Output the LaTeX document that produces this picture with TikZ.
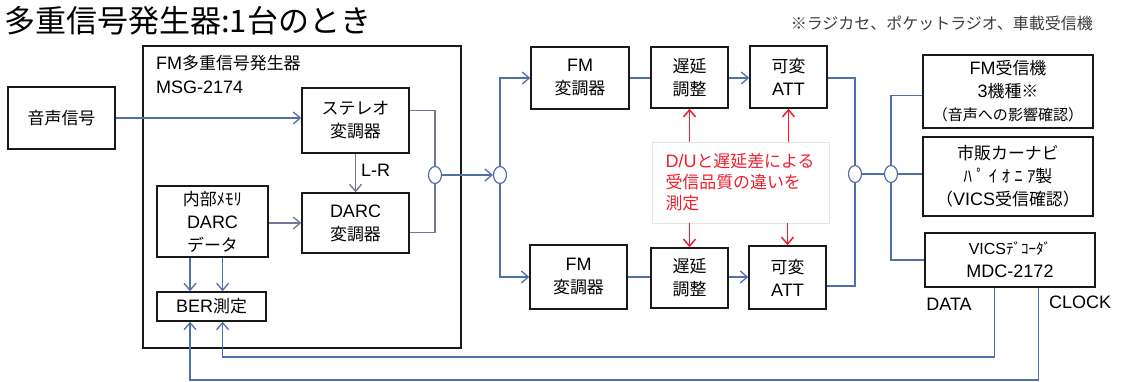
\documentclass[tikz,border=0pt]{standalone}
\usepackage{fontspec}
\setmainfont{Liberation Sans}
\newfontfamily\jp[Scale=0.94]{Noto Sans CJK JP}
\newfontfamily\jph[Scale=0.94,LetterSpace=25]{Noto Sans CJK JP}
\newcommand\J[1]{{\jp #1}}
\usetikzlibrary{arrows.meta,calc,shapes.geometric}
\definecolor{lblue}{RGB}{82,112,168}
\definecolor{igray}{RGB}{112,118,148}
\definecolor{dred}{RGB}{240,30,45}
\definecolor{bord}{RGB}{25,25,25}
\definecolor{notegray}{RGB}{60,60,60}
\definecolor{faint}{RGB}{228,228,228}
\tikzset{
 box/.style={draw=bord, line width=1.5pt, fill=white, align=center, font=\fontsize{18}{23}\selectfont, inner sep=0pt},
 conn/.style={draw=lblue, line width=1.3pt},
 iconn/.style={draw=igray, line width=1.3pt},
 arr/.style={conn, -{Straight Barb[length=7pt,width=12pt]}},
 iarr/.style={iconn, -{Straight Barb[length=7pt,width=12pt]}},
 junc/.style={ellipse, draw=lblue, line width=1.2pt, fill=white, minimum width=13pt, minimum height=17pt, inner sep=0pt},
 redarr/.style={draw=dred, line width=1.5pt, -{Straight Barb[length=7pt,width=12pt]}},
 lbl/.style={font=\fontsize{18}{22}\selectfont, inner sep=0pt},
}
\newcommand\mybox[6]{\node[box, minimum width={#4-#2}, minimum height={#5-#3}] (#1) at ({(#2+#4)/2},{(#3+#5)/2}) {#6};}
\begin{document}
\begin{tikzpicture}[x=1pt,y=-1pt]
\useasboundingbox (0,0) rectangle (1130,382);
% title and footnote
\node[anchor=west, font=\fontsize{33}{36}\selectfont\jp, inner sep=0pt] (title) at (4,21) {多重信号発生器:1台のとき};
\node[anchor=east, font=\fontsize{17}{20}\selectfont\jp, text=notegray, inner sep=0pt] (fn) at (1093,23) {※ラジカセ、ポケットラジオ、車載受信機};
% generator container
\mybox{msg}{143}{46}{461}{348}{}
\node[anchor=north west, align=left, font=\fontsize{18}{24}\selectfont, inner sep=0pt] (msgl) at (156,55) {FM\J{多重信号発生器}\\MSG-2174};
% boxes
\mybox{voice}{8}{87}{115}{149}{\J{音声信号}}
\mybox{stereo}{302}{88}{409}{153}{\J{ステレオ}\\\J{変調器}}
\mybox{darc}{302}{193}{409}{253}{DARC\\\J{変調器}}
\mybox{mem}{157}{186}{268}{257}{\J{内部ﾒﾓﾘ}\\DARC\\\J{データ}}
\mybox{ber}{157}{292}{266}{321}{BER\J{測定}}
\mybox{fma}{531}{47}{629}{109}{FM\\\J{変調器}}
\mybox{dela}{651}{47}{728}{108}{\J{遅延}\\\J{調整}}
\mybox{atta}{750}{46}{827}{108}{\J{可変}\\ATT}
\mybox{fmb}{530}{245}{627}{309}{FM\\\J{変調器}}
\mybox{delb}{651}{248}{728}{308}{\J{遅延}\\\J{調整}}
\mybox{attb}{749}{246}{826}{309}{\J{可変}\\ATT}
\mybox{rx}{923}{55}{1093}{128}{FM\J{受信機}\\3\J{機種※}\\{\fontsize{16}{20}\selectfont\J{（音声への影響確認）}}}
\mybox{nav}{923}{137}{1093}{216}{\J{市販カーナビ}\\{\jph ﾊﾟｲｵﾆｱ}\J{製}\\\J{（}VICS\J{受信確認）}}
\mybox{vics}{925}{233}{1095}{287}{{\fontsize{16}{20}\selectfont VICS\J{ﾃﾞｺｰﾀﾞ}}\\MDC-2172}
% red note
\node[draw=faint, line width=0.8pt, fill=white, minimum width=177pt, minimum height=81pt, text width=150pt, align=left, inner sep=0pt, text=dred, font=\fontsize{18}{21}\selectfont] (note) at (740.5,182.5) {D/U\J{と遅延差による}\\\J{受信品質の違いを}\\\J{測定}};
% junctions
\node[junc] (ja) at (435,175) {};
\node[junc] (jb) at (500,175) {};
\node[junc] (jc) at (855,174) {};
\node[junc] (jd) at (891,174) {};
% labels
\node[lbl, anchor=west] (lr) at (361,170) {L-R};
\node[lbl] (data) at (949,304) {DATA};
\node[lbl] (clock) at (1080,302) {CLOCK};
% connectors inside generator
\draw[arr] (voice.east) -- (voice.east -| stereo.west);
\draw[iconn] ($(stereo.north east)!0.35!(stereo.south east)$) -| (ja.north);
\draw[iconn] ($(darc.north east)!0.65!(darc.south east)$) -| (ja.south);
\draw[iarr] (stereo.south) -- (darc.north);
\draw[iarr] (mem.east |- darc.west) -- (darc.west);
\draw[arr] ($(mem.south west)!0.3!(mem.south east)$) coordinate (ma) -- (ma |- ber.north);
\draw[arr] ($(mem.south west)!0.59!(mem.south east)$) coordinate (mb) -- (mb |- ber.north);
% to modulators
\draw[arr] (ja.east) -- (jb.west);
\draw[arr] (jb.north) |- (fma.west);
\draw[arr] (jb.south) |- (fmb.west);
\draw[conn] (fma.east) -- (fma.east -| dela.west);
\draw[arr] (dela.east |- fma.east) -- (atta.west |- fma.east);
\draw[conn] (fmb.east) -- (fmb.east -| delb.west);
\draw[arr] (delb.east |- fmb.east) -- (attb.west |- fmb.east);
\draw[conn] (atta.east |- fma.east) -| (jc.north);
\draw[conn] ($(attb.north east)!0.63!(attb.south east)$) -| (jc.south);
% to receivers
\draw[conn] (jc.east) -- (jd.west);
\draw[conn] (jd.east) -- (jd.east -| nav.west);
\draw[conn] (jd.north) |- ($(rx.north west)!0.55!(rx.south west)$);
\draw[conn] (jd.south) |- (vics.west);
% red arrows
\draw[redarr] (note.north -| dela.south) -- (dela.south);
\draw[redarr] (note.north -| atta.south) -- (atta.south);
\draw[redarr] (note.south -| delb.north) -- (delb.north);
\draw[redarr] (note.south -| attb.north) -- (attb.north);
% DATA / CLOCK feedback
\coordinate (vd) at ($(vics.south west)!0.41!(vics.south east)$);
\coordinate (vc) at ($(vics.south west)!0.665!(vics.south east)$);
\draw[arr] (vd) -- (vd |- 0,357) -| (mb |- ber.south);
\draw[arr] (vc) -- (vc |- 0,380) -| (ma |- ber.south);
\end{tikzpicture}
\end{document}
